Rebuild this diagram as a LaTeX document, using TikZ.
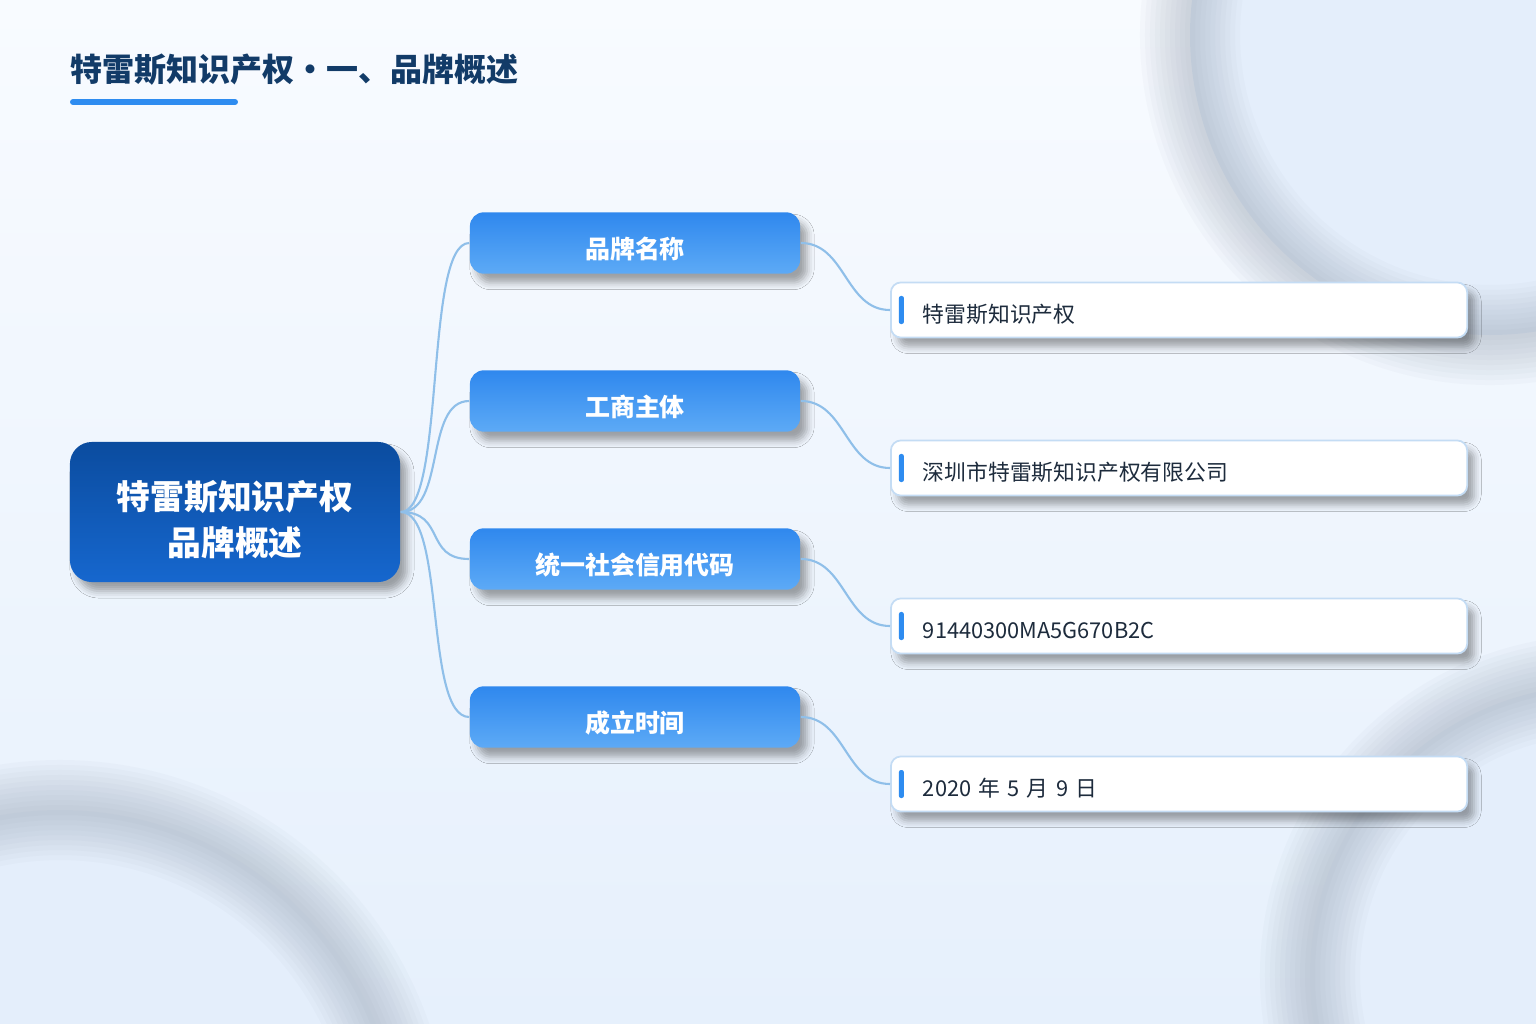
\documentclass[tikz,border=0pt]{standalone}
\usepackage{fontspec}
\setmainfont{Noto Sans CJK SC}
\usepackage{tikz}
\usetikzlibrary{shadows.blur}

\definecolor{bgtop}{HTML}{F8FBFF}
\definecolor{bgbot}{HTML}{E6F0FC}
\definecolor{ringin}{HTML}{E4EEFB}
\definecolor{ringgray}{HTML}{8A96A8}
\definecolor{titlenavy}{HTML}{123B68}
\definecolor{barblue}{HTML}{2E8CF0}
\definecolor{rootA}{HTML}{0B4C9F}
\definecolor{rootB}{HTML}{1667CE}
\definecolor{brA}{HTML}{2F88EE}
\definecolor{brB}{HTML}{5DAAF6}
\definecolor{leafline}{HTML}{C4DCF4}
\definecolor{leaftext}{HTML}{1D2B3C}
\definecolor{linkblue}{HTML}{8FBFE9}

\begin{document}
\begin{tikzpicture}[x=0.01cm, y=-0.01cm,
    soft/.style={blur shadow={shadow xshift=0.07cm, shadow yshift=-0.09cm,
        shadow blur radius=0.07cm, shadow opacity=35}},
    root/.style={soft, rounded corners=0.22cm, top color=rootA, bottom color=rootB,
        minimum width=3.3cm, minimum height=1.4cm, align=center, text=white,
        text height=25.8pt, text depth=1pt,
        font=\fontsize{9.6pt}{13pt}\selectfont\bfseries},
    branch/.style={soft, rounded corners=0.14cm, top color=brA, bottom color=brB,
        minimum width=3.3cm, minimum height=0.56cm, text=white,
        text height=9.8pt, text depth=1pt,
        font=\fontsize{7.1pt}{9pt}\selectfont\bfseries},
    leaf/.style={soft, rounded corners=0.1cm, fill=white, draw=leafline, line width=0.5pt,
        anchor=west, text width=5.12cm, inner xsep=0.32cm, minimum height=0.52cm,
        text height=8pt, text depth=1pt,
        align=left, text=leaftext, font=\fontsize{6.2pt}{8pt}\selectfont,
        path picture={\fill[barblue, rounded corners=0.6pt]
            ([xshift=0.08cm, yshift=-0.14cm]path picture bounding box.west)
            rectangle ++(0.05cm, 0.28cm);}},
    link/.style={draw=linkblue, line width=0.6pt}]

    % background
    \useasboundingbox (0,0) rectangle (1536,1024);
    \shade[shading angle=35, top color=bgtop, bottom color=bgbot] (0,0) rectangle (1536,1024);
    \begin{scope}
        \clip (0,0) rectangle (1536,1024);
        \fill[ringin] (1490,35) circle (300);
        \fill[ringin] (60,1150) circle (340);
        \fill[ringin] (1600,975) circle (290);
        \foreach \w in {100,90,...,10} {
            \draw[ringgray, opacity=0.045, line width=\w*0.1mm] (1490,35) circle (300);
            \draw[ringgray, opacity=0.045, line width=\w*0.1mm] (60,1150) circle (340);
            \draw[ringgray, opacity=0.045, line width=\w*0.1mm] (1600,975) circle (290);
        }
    \end{scope}

    % title
    \node[anchor=west, inner sep=0, text=titlenavy, font=\fontsize{9.1pt}{11pt}\selectfont\bfseries]
        (title) at (70,70) {特雷斯知识产权・一、品牌概述};
    \draw[barblue, line width=1.7pt, line cap=round] (73,102) -- (235,102);

    % nodes
    \node[root] (root) at (235,512) {特雷斯知识产权\\品牌概述};

    \node[branch] (b1) at (635,243) {品牌名称};
    \node[branch] (b2) at (635,401) {工商主体};
    \node[branch] (b3) at (635,559) {统一社会信用代码};
    \node[branch] (b4) at (635,717) {成立时间};

    \node[leaf] (l1) at (890,310) {特雷斯知识产权};
    \node[leaf] (l2) at (890,468) {深圳市特雷斯知识产权有限公司};
    \node[leaf] (l3) at (890,626) {91440300MA5G670B2C};
    \node[leaf] (l4) at (890,784) {2020 年 5 月 9 日};

    % links
    \foreach \b/\l in {b1/l1, b2/l2, b3/l3, b4/l4} {
        \draw[link] (root.east) .. controls +(45,0) and +(-45,0) .. (\b.west);
        \draw[link] (\b.east) .. controls +(45,0) and +(-45,0) .. (\l.west);
    }
\end{tikzpicture}
\end{document}
